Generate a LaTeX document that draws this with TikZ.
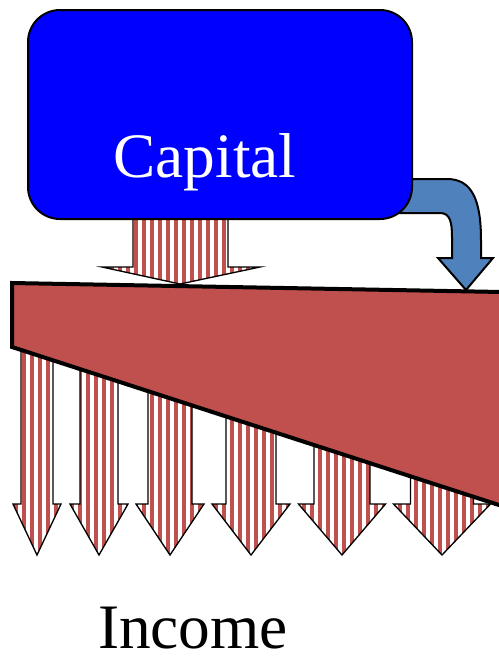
\documentclass[tikz,border=0pt]{standalone}
\usepackage{fontspec}
\setmainfont{Liberation Serif}
\usepackage{tikz}
\usetikzlibrary{patterns.meta}
\definecolor{capblue}{RGB}{0,0,255}
\definecolor{wedgered}{RGB}{192,80,77}
\definecolor{bentblue}{RGB}{79,129,189}

\begin{document}
\begin{tikzpicture}[
        x=0.75pt, y=-0.75pt, % 像素坐标
        capbox/.style={rectangle, draw=black, line width=1.5pt, fill=capblue, rounded corners=24pt, minimum width=288pt, minimum height=156.75pt, inner sep=0pt},
        bigtext/.style={font=\fontsize{47.5}{50}\selectfont, anchor=base, inner sep=0pt},
        stripes/.style={draw=black, line width=1pt, preaction={fill=white}, pattern={Lines[angle=90, distance=6pt, line width=3pt]}, pattern color=wedgered},
        wedge/.style={draw=black, line width=3pt, fill=wedgered, line join=miter},
        bent/.style={draw=black, line width=1.5pt, fill=bentblue, line join=miter}
    ]
    \useasboundingbox (0,0) rectangle (499,662);

    % 收入箭头 (在楔形后面)
    \foreach \c/\s/\h in {37/16/24, 99/19/29, 170/22/34, 251/25/39, 342/28/43.5, 442/31.5/48.5}
        \draw[stripes] ({\c-\s},300) -- ({\c-\s},504) -- ({\c-\h},504) -- (\c,555)
            -- ({\c+\h},504) -- ({\c+\s},504) -- ({\c+\s},300) -- cycle;

    % 楔形
    \draw[wedge] (12,283) -- (502,292) -- (502,506) -- (12,347) -- cycle;

    % 弯箭头
    \draw[bent] (400,179) -- (447,179) .. controls (472,179) and (481,200) .. (481,240)
        -- (481,258) -- (493,258) -- (466,290) -- (438,258) -- (452,258) -- (452,237)
        .. controls (452,222) and (450,213) .. (440,213) -- (400,213) -- cycle;

    % 向下箭头
    \draw[stripes] (133,205) -- (133,267) -- (102,267) -- (180,284) -- (260,267)
        -- (228,267) -- (228,205) -- cycle;

    % 节点
    \node (capital) [capbox] at (220,114.5) {};
    \node (captext) [bigtext, text=white] at (205,177) {Capital};
    \node (income) [bigtext] at (193,648) {Income};

\end{tikzpicture}
\end{document}
